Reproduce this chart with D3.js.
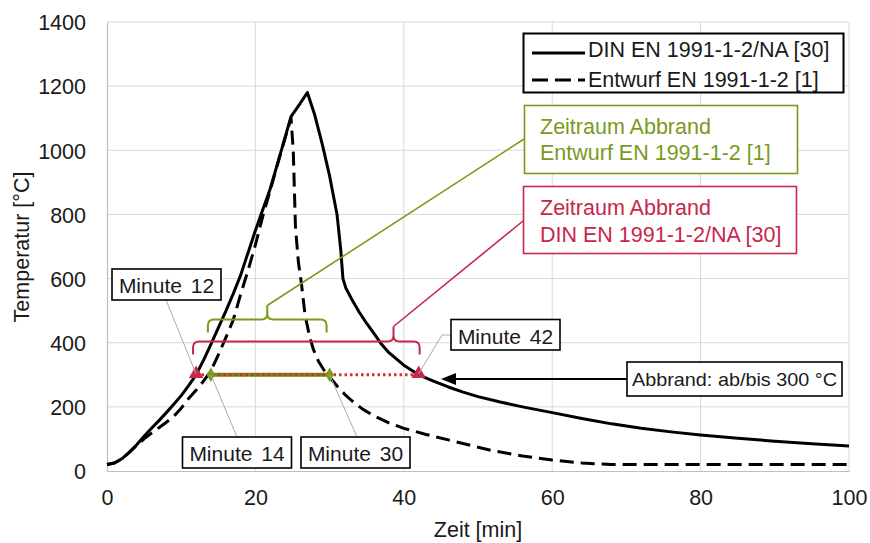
<!DOCTYPE html>
<html>
<head>
<meta charset="utf-8">
<script src="https://cdn.jsdelivr.net/npm/d3@7"></script>
<style>
  html, body { margin: 0; padding: 0; background: #fff; }
  svg { display: block; }
  text { font-family: "Liberation Sans", Arial, sans-serif; }
</style>
</head>
<body>
<svg id="chart" width="870" height="543"></svg>
<script>
// Time axis [min]
const xTicks = [0, 20, 40, 60, 80, 100];
// Temperature axis [°C]
const yTicks = [0, 200, 400, 600, 800, 1000, 1200, 1400];

// Temperature-time curve, DIN EN 1991-1-2/NA [30]
const dinTime = [0, 1, 2, 3, 4, 5, 6, 7, 8, 9, 10, 11, 12, 13, 14, 15, 16, 17, 18, 19, 20, 21, 22, 23, 24, 24.8, 26, 27, 28, 29, 30, 31, 31.5, 31.8, 32.2, 33, 34, 35, 36, 37, 38, 40, 42, 44, 46, 48, 50, 53, 56, 60, 64, 68, 72, 76, 80, 85, 90, 95, 100];
const dinTemp = [20, 25, 38, 58, 82, 108, 133, 157, 182, 208, 235, 266, 300, 345, 395, 446, 498, 552, 610, 680, 750, 815, 880, 960, 1040, 1105, 1145, 1180, 1110, 1020, 920, 800, 690, 600, 570, 535, 495, 460, 428, 395, 369, 330, 300, 280, 262, 246, 232, 215, 200, 182, 164, 147, 133, 122, 112, 102, 93, 85, 78];

// Temperature-time curve, Entwurf EN 1991-1-2 [1]
const entTime = [0, 1, 2, 3, 4, 5, 6, 7, 8, 9, 10, 11, 12, 13, 14, 15, 16, 17, 18, 19, 20, 21, 22, 23, 24, 24.8, 25.1, 25.4, 25.8, 26.2, 26.7, 27.3, 27.8, 28.5, 29.5, 30, 31, 32, 33, 34.5, 36, 38, 40, 43, 46, 49, 52, 56, 60, 64, 68, 72, 100];
const entTemp = [20, 25, 38, 58, 80, 100, 118, 135, 152, 170, 196, 226, 252, 280, 312, 362, 415, 470, 550, 625, 705, 795, 875, 958, 1038, 1100, 1000, 760, 650, 585, 485, 420, 380, 342, 305, 293, 265, 240, 219, 192, 172, 150, 133, 114, 97, 80, 63, 47, 34, 25, 20, 20, 20];

// Burn-off markers at 300 °C
const burnTemp = 300;
const dinBurn = [12, 42];   // Minute 12 / Minute 42
const entBurn = [14, 30];   // Minute 14 / Minute 30

const svg = d3.select("#chart");
const x = d3.scaleLinear().domain([0, 100]).range([107, 849]);
const y = d3.scaleLinear().domain([0, 1400]).range([471, 22]);

const red = "#c8264b";
const redDot = "#dc2a35";
const green = "#7a9a1c";
const greenLine = "#6f8a12";
const leaderGrey = "#ababab";
const ink = "#1a1a1a";

// Gridlines
const grid = svg.append("g");
grid.selectAll("line.h").data(yTicks.slice(1)).join("line")
  .attr("x1", x(0)).attr("x2", x(100))
  .attr("y1", d => y(d)).attr("y2", d => y(d))
  .attr("stroke", "#d9d9d9").attr("stroke-width", 1);
grid.selectAll("line.v").data(xTicks.slice(1)).join("line")
  .attr("x1", d => x(d)).attr("x2", d => x(d))
  .attr("y1", y(0)).attr("y2", y(1400))
  .attr("stroke", "#d9d9d9").attr("stroke-width", 1);

// Axes
const xAxis = d3.axisBottom(x).tickValues(xTicks).tickFormat(d3.format("d")).tickSize(0).tickPadding(0);
const yAxis = d3.axisLeft(y).tickValues(yTicks).tickFormat(d3.format("d")).tickSize(0).tickPadding(0);
const gx = svg.append("g").attr("transform", `translate(0,${y(0)})`).call(xAxis);
gx.select(".domain").attr("stroke", "#bfbfbf").attr("stroke-width", 1.2);
gx.selectAll("text").attr("font-size", 21.5).attr("fill", ink)
  .attr("font-family", "Liberation Sans, Arial, sans-serif")
  .attr("dy", null).attr("y", 34);
const gy = svg.append("g").attr("transform", `translate(${x(0)},0)`).call(yAxis);
gy.select(".domain").attr("stroke", "#bfbfbf").attr("stroke-width", 1.2);
gy.selectAll("text").attr("font-size", 21.5).attr("fill", ink)
  .attr("font-family", "Liberation Sans, Arial, sans-serif")
  .attr("x", -21).attr("dy", "0.36em");

svg.append("text").attr("x", 478).attr("y", 537).attr("text-anchor", "middle")
  .attr("font-size", 21.5).attr("fill", ink).text("Zeit [min]");
svg.append("text").attr("transform", "translate(29,247) rotate(-90)")
  .attr("text-anchor", "middle").attr("font-size", 21.5).attr("fill", ink)
  .text("Temperatur [°C]");

// Curves
const line = d3.line().x(d => x(d[0])).y(d => y(d[1])).curve(d3.curveLinear);
const dinPts = dinTime.map((t, i) => [t, dinTemp[i]]);
const entPts = entTime.map((t, i) => [t, entTemp[i]]);

svg.append("path").attr("d", line(entPts)).attr("fill", "none")
  .attr("stroke", "#000").attr("stroke-width", 3)
  .attr("stroke-dasharray", "14,7").attr("stroke-linejoin", "round");
svg.append("path").attr("d", line(dinPts)).attr("fill", "none")
  .attr("stroke", "#000").attr("stroke-width", 3).attr("stroke-linejoin", "round");

// Burn-off period lines at 300 °C
svg.append("line")
  .attr("x1", x(entBurn[0])).attr("x2", x(entBurn[1]))
  .attr("y1", y(burnTemp)).attr("y2", y(burnTemp))
  .attr("stroke", greenLine).attr("stroke-width", 4);
svg.append("line")
  .attr("x1", x(dinBurn[0])).attr("x2", x(dinBurn[1]))
  .attr("y1", y(burnTemp)).attr("y2", y(burnTemp))
  .attr("stroke", redDot).attr("stroke-width", 3).attr("stroke-dasharray", "2.5,3");

// Markers
svg.selectAll("path.tri").data(dinBurn).join("path")
  .attr("transform", d => `translate(${x(d)},${y(burnTemp) - 1})`)
  .attr("d", d3.symbol(d3.symbolTriangle).size(90)).attr("fill", red);
svg.selectAll("path.dia").data(entBurn).join("path")
  .attr("transform", d => `translate(${x(d)},${y(burnTemp)})`)
  .attr("d", d3.symbol(d3.symbolDiamond).size(60)).attr("fill", green);

// Curly braces marking the burn-off periods
function brace(x1, x2, xm, yh, depth, tip, r) {
  return `M${x1},${yh + depth} L${x1},${yh + r} Q${x1},${yh} ${x1 + r},${yh} ` +
         `L${xm - r},${yh} Q${xm},${yh} ${xm},${yh - r} L${xm},${yh - tip} ` +
         `M${xm},${yh - r} Q${xm},${yh} ${xm + r},${yh} ` +
         `L${x2 - r},${yh} Q${x2},${yh} ${x2},${yh + r} L${x2},${yh + depth}`;
}
const gBrace = { x1: x(entBurn[0]) - 3, x2: x(entBurn[1]) - 3, yh: 319.5 };
gBrace.xm = (gBrace.x1 + gBrace.x2) / 2;
const rBrace = { x1: x(dinBurn[0]) - 3, x2: x(dinBurn[1]) + 1, yh: 341.5, xm: 393.5 };

svg.append("path").attr("d", brace(gBrace.x1, gBrace.x2, gBrace.xm, gBrace.yh, 13, 14, 6))
  .attr("fill", "none").attr("stroke", green).attr("stroke-width", 2);
svg.append("path").attr("d", brace(rBrace.x1, rBrace.x2, rBrace.xm, rBrace.yh, 13, 15, 6))
  .attr("fill", "none").attr("stroke", red).attr("stroke-width", 2);

// Leaders from braces to their text boxes
svg.append("line").attr("x1", gBrace.xm).attr("y1", gBrace.yh - 14)
  .attr("x2", 524).attr("y2", 139).attr("stroke", green).attr("stroke-width", 1.6);
svg.append("line").attr("x1", rBrace.xm).attr("y1", rBrace.yh - 15)
  .attr("x2", 523).attr("y2", 221).attr("stroke", red).attr("stroke-width", 1.6);

// Coloured text boxes
function textBox(x0, y0, w, h, color, lines, tx, baselines) {
  svg.append("rect").attr("x", x0).attr("y", y0).attr("width", w).attr("height", h)
    .attr("fill", "#fff").attr("stroke", color).attr("stroke-width", 1.6);
  lines.forEach((s, i) => {
    svg.append("text").attr("x", tx).attr("y", baselines[i])
      .attr("font-size", 21.5).attr("fill", color).text(s);
  });
}
textBox(524.5, 105.5, 273, 68, green,
  ["Zeitraum Abbrand", "Entwurf EN 1991-1-2 [1]"], 540, [134, 160]);
textBox(523.5, 186.5, 273, 67, red,
  ["Zeitraum Abbrand", "DIN EN 1991-1-2/NA [30]"], 540, [215, 242]);

// Minute labels with grey leader lines
const minuteLabels = [
  { text: "Minute 12", box: [112, 269, 109, 31], from: [166, 300], t: dinBurn[0], yOff: -1 },
  { text: "Minute 14", box: [182.5, 437, 109, 31], from: [237, 437], t: entBurn[0], yOff: 0 },
  { text: "Minute 30", box: [301, 437, 109, 31], from: [357, 437], t: entBurn[1], yOff: 0 },
  { text: "Minute 42", box: [451, 319.5, 109, 30.5], from: [442, 335], t: dinBurn[1], yOff: -1, elbow: [451, 335] }
];
minuteLabels.forEach(m => {
  const pts = [];
  if (m.elbow) pts.push(m.elbow);
  pts.push(m.from);
  pts.push([x(m.t), y(burnTemp) + m.yOff]);
  svg.append("path").attr("d", d3.line()(pts)).attr("fill", "none")
    .attr("stroke", leaderGrey).attr("stroke-width", 1);
});
minuteLabels.forEach(m => {
  const [bx, by, bw, bh] = m.box;
  svg.append("rect").attr("x", bx).attr("y", by).attr("width", bw).attr("height", bh)
    .attr("fill", "#fff").attr("stroke", "#000").attr("stroke-width", 1.6);
  svg.append("text").attr("x", bx + bw / 2).attr("y", by + 24)
    .attr("text-anchor", "middle").attr("font-size", 21).attr("fill", ink)
    .attr("word-spacing", 3).text(m.text);
});

// Threshold note with arrow
svg.append("line").attr("x1", 627).attr("y1", 379).attr("x2", 452).attr("y2", 379)
  .attr("stroke", "#000").attr("stroke-width", 2);
svg.append("path").attr("d", "M441,379 L456,373 L456,385 Z").attr("fill", "#000");
svg.append("rect").attr("x", 627).attr("y", 362).attr("width", 215).attr("height", 34)
  .attr("fill", "#fff").attr("stroke", "#000").attr("stroke-width", 1.6);
svg.append("text").attr("x", 632).attr("y", 386)
  .attr("font-family", "Open Sans, Noto Sans, sans-serif")
  .attr("font-size", 18.5).attr("textLength", 205).attr("lengthAdjust", "spacingAndGlyphs")
  .attr("fill", ink).text("Abbrand: ab/bis 300 °C");

// Legend
const lg = svg.append("g");
lg.append("rect").attr("x", 523.5).attr("y", 33.5).attr("width", 320).attr("height", 59)
  .attr("fill", "#fff").attr("stroke", "#000").attr("stroke-width", 2);
lg.append("line").attr("x1", 532).attr("x2", 585).attr("y1", 53).attr("y2", 53)
  .attr("stroke", "#000").attr("stroke-width", 3);
lg.append("line").attr("x1", 532).attr("x2", 585).attr("y1", 80).attr("y2", 80)
  .attr("stroke", "#000").attr("stroke-width", 3).attr("stroke-dasharray", "16,7");
lg.append("text").attr("x", 588).attr("y", 57).attr("font-size", 21.5).attr("fill", ink)
  .text("DIN EN 1991-1-2/NA [30]");
lg.append("text").attr("x", 588).attr("y", 87).attr("font-size", 21.5).attr("fill", ink)
  .text("Entwurf EN 1991-1-2 [1]");
</script>
</body>
</html>
